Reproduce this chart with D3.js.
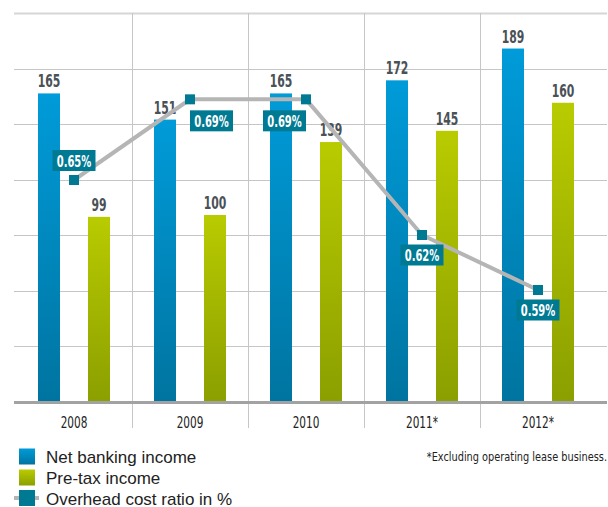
<!DOCTYPE html>
<html>
<head>
<meta charset="utf-8">
<script src="https://cdn.jsdelivr.net/npm/d3@7/dist/d3.min.js"></script>
<style>
  html, body { margin: 0; padding: 0; background: #fff; }
  svg { display: block; }
  .narrow { font-family: "Liberation Sans Narrow", "DejaVu Sans Condensed", "Liberation Sans", sans-serif; font-stretch: condensed; }
</style>
</head>
<body>
<svg id="chart" width="608" height="507"></svg>
<script>
// ---- data ----
const years = ["2008", "2009", "2010", "2011*", "2012*"];
const netBankingIncome = [165, 151, 165, 172, 189];
const preTaxIncome = [99, 100, 139, 145, 160];
const overheadRatio = [0.65, 0.694, 0.694, 0.62, 0.59];
const overheadLabels = ["0.65%", "0.69%", "0.69%", "0.62%", "0.59%"];
const labelAnchor = ["above", "right", "left", "below", "below"];
const seriesNames = ["Net banking income", "Pre-tax income", "Overhead cost ratio in %"];
const footnote = "*Excluding operating lease business.";

// ---- setup ----
const svg = d3.select("#chart");
const defs = svg.append("defs");
function grad(id, top, bottom) {
  const g = defs.append("linearGradient").attr("id", id)
    .attr("x1", 0).attr("y1", 0).attr("x2", 0).attr("y2", 1);
  g.append("stop").attr("offset", "0%").attr("stop-color", top);
  g.append("stop").attr("offset", "100%").attr("stop-color", bottom);
}
grad("gBlue", "#009bd9", "#0074a0");
grad("gGreen", "#b9cb00", "#8b9f00");

const x = d3.scaleBand().domain(years).range([16, 596]).padding(0);
const sub = d3.scaleBand().domain(["net", "pre"]).range([22, 94]).paddingInner(0.56).paddingOuter(0);
const yMax = 208;
const y = d3.scaleLinear().domain([0, yMax]).range([402, 13]);
const y2 = d3.scaleLinear().domain([0.59, 0.62]).range([290, 235]);

const baseY = y(0);

// condensed text helper: places text at (tx,ty) squeezed horizontally
function condensed(sel, fx, fy, sx) {
  return sel.attr("class", "narrow")
    .attr("x", 0).attr("y", 0)
    .attr("transform", (d, i) => `translate(${fx(d, i)},${fy(d, i)}) scale(${sx},1)`);
}

// horizontal gridlines
const gridVals = d3.range(1, 8).map(i => yMax * i / 7);
svg.append("g").selectAll("line").data(gridVals).join("line")
  .attr("x1", 14).attr("x2", 607)
  .attr("y1", d => Math.round(y(d)) + 0.5).attr("y2", d => Math.round(y(d)) + 0.5)
  .attr("stroke", (d, i) => i === 6 ? "#d6d6d6" : "#c6c6c6")
  .attr("stroke-width", (d, i) => i === 6 ? 2 : 1);

// vertical separators
svg.append("g").selectAll("line").data(years.slice(1)).join("line")
  .attr("x1", d => x(d) + 0.5).attr("x2", d => x(d) + 0.5)
  .attr("y1", y(yMax)).attr("y2", 428)
  .attr("stroke", "#c6c6c6").attr("stroke-width", 1);

// bars
const barsG = svg.append("g");
barsG.selectAll("rect.net").data(years).join("rect").attr("class", "net")
  .attr("x", d => x(d) + sub("net")).attr("width", sub.bandwidth())
  .attr("y", (d, i) => y(netBankingIncome[i]))
  .attr("height", (d, i) => baseY - y(netBankingIncome[i]))
  .attr("fill", "url(#gBlue)");
barsG.selectAll("rect.pre").data(years).join("rect").attr("class", "pre")
  .attr("x", d => x(d) + sub("pre")).attr("width", sub.bandwidth())
  .attr("y", (d, i) => y(preTaxIncome[i]))
  .attr("height", (d, i) => baseY - y(preTaxIncome[i]))
  .attr("fill", "url(#gGreen)");

// baseline
svg.append("line").attr("x1", 14).attr("x2", 607)
  .attr("y1", baseY + 0.5).attr("y2", baseY + 0.5)
  .attr("stroke", "#a2a2a2").attr("stroke-width", 3);

// x labels
svg.append("g").selectAll("text").data(years).join("text")
  .call(condensed, d => x(d) + x.bandwidth() / 2, () => 427.5, 0.78)
  .attr("text-anchor", "middle").attr("font-size", 15).attr("fill", "#222")
  .text(d => d);

// value labels
const valG = svg.append("g")
  .attr("font-size", 17.5).attr("font-weight", "bold").attr("fill", "#4a5157").attr("text-anchor", "middle");
valG.selectAll("text.n").data(years).join("text")
  .call(condensed, d => x(d) + sub("net") + sub.bandwidth() / 2, (d, i) => y(netBankingIncome[i]) - 6, 0.69)
  .text((d, i) => netBankingIncome[i]);
valG.selectAll("text.p").data(years).join("text")
  .call(condensed, d => x(d) + sub("pre") + sub.bandwidth() / 2, (d, i) => y(preTaxIncome[i]) - 6, 0.69)
  .text((d, i) => preTaxIncome[i]);

// line
const cx = d => x(d) + x.bandwidth() / 2;
const line = d3.line().x((d, i) => cx(years[i])).y(d => y2(d));
svg.append("path").datum(overheadRatio).attr("d", line)
  .attr("fill", "none").attr("stroke", "#b5b5b5").attr("stroke-width", 4);

const teal = "#007a93";
svg.append("g").selectAll("rect").data(overheadRatio).join("rect")
  .attr("x", (d, i) => cx(years[i]) - 5).attr("y", d => y2(d) - 5)
  .attr("width", 10).attr("height", 10).attr("fill", teal);

// ratio label boxes
const bw = 43, bh = 21;
function boxPos(i) {
  const px = cx(years[i]), py = y2(overheadRatio[i]);
  switch (labelAnchor[i]) {
    case "above": return [px - bw / 2, py - 30];
    case "right": return [px, py + 11];
    case "left": return [px - bw, py + 11];
    default: return [px - bw / 2, py + 9.5];
  }
}
const lblG = svg.append("g").selectAll("g").data(overheadRatio).join("g")
  .attr("transform", (d, i) => { const p = boxPos(i); return `translate(${p[0]},${p[1]})`; });
lblG.append("rect").attr("width", bw).attr("height", bh).attr("fill", teal);
lblG.append("text")
  .call(condensed, () => bw / 2, () => 16.5, 0.74)
  .attr("text-anchor", "middle")
  .attr("font-size", 15).attr("font-weight", "bold").attr("fill", "#fff")
  .text((d, i) => overheadLabels[i]);

// legend
const leg = svg.append("g");
const legY = [448.5, 469.5, 490];
leg.append("line").attr("x1", 14).attr("x2", 39).attr("y1", legY[2] + 8).attr("y2", legY[2] + 8)
  .attr("stroke", "#b5b5b5").attr("stroke-width", 4);
leg.selectAll("rect").data(seriesNames).join("rect")
  .attr("x", 19).attr("y", (d, i) => legY[i]).attr("width", 16).attr("height", 16)
  .attr("fill", (d, i) => i === 0 ? "url(#gBlue)" : i === 1 ? "url(#gGreen)" : teal);
leg.selectAll("text").data(seriesNames).join("text")
  .attr("x", 46).attr("y", (d, i) => legY[i] + 14.5)
  .attr("font-family", "'Liberation Sans', Arial, sans-serif")
  .attr("font-size", 17).attr("fill", "#222")
  .text(d => d);

// footnote
svg.append("text")
  .call(condensed, () => 607, () => 460.7, 0.87)
  .attr("text-anchor", "end")
  .attr("font-size", 12.5).attr("fill", "#222")
  .text(footnote);
</script>
</body>
</html>
